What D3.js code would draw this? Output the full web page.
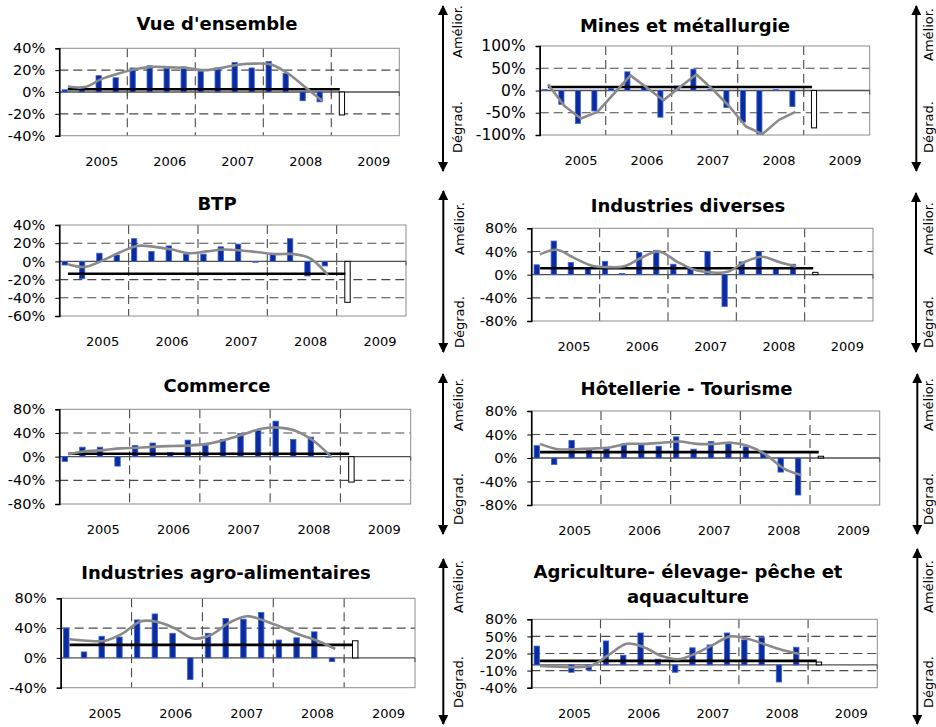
<!DOCTYPE html>
<html>
<head>
<meta charset="utf-8">
<script src="https://cdn.jsdelivr.net/npm/d3@7"></script>
<style>
  body { margin: 0; background: #fff; }
  svg { display: block; }
  text { font-family: "DejaVu Sans", Verdana, sans-serif; fill: #000; }
</style>
</head>
<body>
<svg id="chart" width="936" height="727"></svg>
<script>
// Quarterly opinion balances (%) by sector, 2005 T1 – 2008 T4, plus the 2009 T1 outlook
const years = ["2005", "2006", "2007", "2008", "2009"];
const quarters = years.flatMap(y => ["T1", "T2", "T3", "T4"].map(q => y + " " + q));

const sectors = [
  "Vue d'ensemble",
  "Mines et métallurgie",
  "BTP",
  "Industries diverses",
  "Commerce",
  "Hôtellerie - Tourisme",
  "Industries agro-alimentaires",
  "Agriculture- élevage- pêche et\naquaculture"
];

const yTicks = [
  [-40, -20, 0, 20, 40],
  [-100, -50, 0, 50, 100],
  [-60, -40, -20, 0, 20, 40],
  [-80, -40, 0, 40, 80],
  [-80, -40, 0, 40, 80],
  [-80, -40, 0, 40, 80],
  [-40, 0, 40, 80],
  [-40, -10, 20, 50, 80]
];

// Quarterly balance of opinions
const balances = [
  [2, 2, 15, 13, 22, 24, 22, 23, 19, 22, 27, 22, 28, 17, -8, -9],
  [2, -31, -74, -46, 4, 42, 10, -60, 10, 48, 2, -38, -71, -98, 2, -36],
  [-4, -19, 9, 7, 25, 11, 17, 8, 8, 16, 19, -1, 8, 25, -16, -5],
  [17, 58, 21, 11, 23, 2, 38, 42, 18, 11, 40, -55, 22, 40, 11, 18],
  [-8, 16, 16, -16, 19, 23, 7, 28, 19, 29, 39, 44, 60, 29, 33, -1],
  [21, -11, 30, 13, 17, 24, 25, 20, 36, 15, 28, 24, 19, 12, -24, -63],
  [40, 8, 29, 28, 51, 59, 33, -29, 33, 53, 52, 61, 24, 27, 35, -5],
  [33, 0, -13, -9, 42, 17, 56, 10, -13, 30, 35, 56, 44, 48, -30, 31]
];

// Trend of the balance
const trends = [
  [5, 4.5, 12, 17, 21, 23, 22.5, 22, 20, 22, 25, 26, 25, 16.5, 4, -8.5],
  [14, -35, -63, -48, -7, 34, 6, -22, 8, 36, 2, -36, -81, -98, -66, -48],
  [-3, -6, 1, 10, 17, 16, 13, 9, 11, 13, 12, 10, 8, 8, 3, -15],
  [35, 43, 29, 16, 13, 15, 30, 40, 23, 9, 4, 5, 22, 31, 22, 14],
  [4, 9, 11, 14, 15, 17, 18, 19, 22, 29, 38, 47, 49, 43, 26, -1],
  [24, 15, 15, 16, 18, 24, 24, 26, 28, 24, 24, 26, 20, 5, -18, -29],
  [25, 23, 23, 33, 49, 48, 39, 26, 31, 47, 56, 50, 41, 31, 23, 12],
  [-2, -3, -4, -1, 18, 37, 31, 16, 10, 20, 35, 50, 46, 36, 26, 19]
];

// Outlook for 2009 T1
const outlook = [-21, -84, -45, 4, -43, 3, 23, 5];
// Long-run average of the balance
const averages = [2.5, 8, -13.5, 11, 5, 10, 17.5, 7];
// Trend drawn as a smoothed curve or as straight segments
const smoothTrend = [true, false, true, true, true, true, true, true];

// Panel geometry: plot box [left, right, top, bottom], title baseline(s), side arrow
const panels = [
  { box: [59.3, 399.3, 48.3, 135.7], tx: 217, ty: [29.5], tickFont: 14.5, ax: 443, ay: [5, 172], lx: 457.5, amel: 5, degr: 153 },
  { box: [539.7, 869.7, 46, 135], tx: 685, ty: [31.5], tickFont: 15.5, ax: 916.3, ay: [5, 172], lx: 928, amel: 8, degr: 153 },
  { box: [59.3, 406, 225, 316], tx: 217, ty: [210], tickFont: 14.5, ax: 443.3, ay: [190, 353], lx: 459, amel: 202, degr: 348 },
  { box: [531.3, 873, 228.3, 321], tx: 688, ty: [212], tickFont: 14.5, ax: 916, ay: [192, 353], lx: 928, amel: 202, degr: 348 },
  { box: [59.3, 410.7, 409.3, 504], tx: 217, ty: [392], tickFont: 14.5, ax: 443, ay: [373, 535], lx: 458.5, amel: 378, degr: 525 },
  { box: [531.3, 879.7, 411, 505], tx: 686.5, ty: [395], tickFont: 14.5, ax: 917.3, ay: [373, 535], lx: 928, amel: 378, degr: 525 },
  { box: [60.7, 415, 598.3, 687.7], tx: 226, ty: [579], tickFont: 14.5, ax: 443.3, ay: [558, 725], lx: 458.5, amel: 560, degr: 708 },
  { box: [531.3, 877.3, 619.3, 687.7], tx: 688, ty: [578, 603], tickFont: 14.5, ax: 917.3, ay: [548, 725], lx: 928, amel: 560, degr: 708 }
];

const svg = d3.select("#chart");

const defs = svg.append("defs");
["arrowEnd", "arrowStart"].forEach((id, i) => {
  defs.append("marker")
    .attr("id", id)
    .attr("viewBox", "0 0 10 10")
    .attr("refX", i === 0 ? 9 : 1).attr("refY", 5)
    .attr("markerUnits", "userSpaceOnUse")
    .attr("markerWidth", 10).attr("markerHeight", 10)
    .attr("orient", "auto")
    .append("path")
    .attr("d", i === 0 ? "M0,0 L10,5 L0,10 Z" : "M10,0 L0,5 L10,10 Z")
    .attr("fill", "#000");
});

sectors.forEach((title, i) => {
  const p = panels[i];
  const [left, right, top, bottom] = p.box;
  const ticks = yTicks[i];
  const g = svg.append("g");

  const x = d3.scaleBand().domain(quarters).range([left, right]).padding(0);
  const bw = x.bandwidth();
  const y = d3.scaleLinear().domain(d3.extent(ticks)).range([bottom, top]);
  const cx = q => x(q) + bw / 2;

  // Title
  const lines = title.split("\n");
  lines.forEach((line, k) => {
    g.append("text")
      .attr("x", p.tx).attr("y", p.ty[k])
      .attr("text-anchor", "middle")
      .attr("font-size", 18).attr("font-weight", "bold")
      .text(line);
  });

  // Dashed horizontal gridlines
  g.append("g").selectAll("line")
    .data(ticks.filter(t => t !== 0 && t !== ticks[0] && t !== ticks[ticks.length - 1]))
    .join("line")
    .attr("x1", left).attr("x2", right)
    .attr("y1", d => y(d)).attr("y2", d => y(d))
    .attr("stroke", "#4a4a4a").attr("stroke-width", 1.1)
    .attr("stroke-dasharray", "9,5");

  // Dashed vertical lines between years
  const yearStarts = years.slice(1).map(yr => yr + " T1");
  g.append("g").selectAll("line")
    .data(yearStarts)
    .join("line")
    .attr("x1", d => x(d)).attr("x2", d => x(d))
    .attr("y1", top).attr("y2", bottom)
    .attr("stroke", "#4a4a4a").attr("stroke-width", 1.1)
    .attr("stroke-dasharray", "9,5");

  // Plot border
  g.append("rect")
    .attr("x", left).attr("y", top)
    .attr("width", right - left).attr("height", bottom - top)
    .attr("fill", "none").attr("stroke", "#8c8c8c").attr("stroke-width", 1);

  // Zero line with year tick marks
  g.append("line")
    .attr("x1", left).attr("x2", right)
    .attr("y1", y(0)).attr("y2", y(0))
    .attr("stroke", "#505050").attr("stroke-width", 1.3);
  g.append("g").selectAll("line")
    .data(yearStarts.map(d => x(d)).concat([right]))
    .join("line")
    .attr("x1", d => d).attr("x2", d => d)
    .attr("y1", y(0)).attr("y2", y(0) + 4)
    .attr("stroke", "#505050").attr("stroke-width", 1);

  // Quarterly balance bars
  const obs = quarters.slice(0, balances[i].length);
  g.append("g").selectAll("rect")
    .data(balances[i].map((v, k) => ({ q: obs[k], v })))
    .join("rect")
    .attr("x", d => x(d.q) + bw * 0.16)
    .attr("width", bw * 0.31)
    .attr("y", d => Math.min(y(d.v), y(0)))
    .attr("height", d => Math.abs(y(d.v) - y(0)))
    .attr("fill", "#0b2c9f")
    .attr("stroke", "#3c62d8").attr("stroke-width", 0.8);

  // Outlook bar
  const fq = quarters[balances[i].length];
  g.append("rect")
    .attr("x", x(fq) + bw * 0.47)
    .attr("width", bw * 0.31)
    .attr("y", Math.min(y(outlook[i]), y(0)))
    .attr("height", Math.abs(y(outlook[i]) - y(0)))
    .attr("fill", "#fff")
    .attr("stroke", "#000").attr("stroke-width", 1);

  // Average line
  const avgPts = quarters.slice(0, balances[i].length + 1).map(q => [cx(q), y(averages[i])]);
  g.append("path")
    .attr("d", d3.line()(avgPts))
    .attr("fill", "none").attr("stroke", "#000").attr("stroke-width", 2.6);

  // Trend line
  const trendLine = d3.line()
    .x(d => cx(d.q)).y(d => y(d.v))
    .curve(smoothTrend[i] ? d3.curveCardinal.tension(0) : d3.curveLinear);
  g.append("path")
    .attr("d", trendLine(trends[i].map((v, k) => ({ q: obs[k], v }))))
    .attr("fill", "none").attr("stroke", "#8a8a8a").attr("stroke-width", 2.6)
    .attr("stroke-linejoin", "round");

  // Value axis
  const yAxis = g.append("g")
    .attr("transform", `translate(${left},0)`)
    .call(d3.axisLeft(y).tickValues(ticks).tickFormat(d => d + "%").tickSize(4).tickPadding(10));
  yAxis.select(".domain").attr("stroke", "#000").attr("stroke-width", 1.6);
  yAxis.selectAll(".tick line").attr("stroke", "#000");
  yAxis.selectAll("text").attr("font-size", p.tickFont).attr("font-family", '"DejaVu Sans", sans-serif').attr("fill", "#000");

  // Year labels
  const xAxis = g.append("g")
    .attr("transform", `translate(0,${bottom})`)
    .call(d3.axisBottom(x).tickValues(years.map(yr => yr + " T3")).tickFormat(d => d.slice(0, 4)).tickSize(0).tickPadding(21));
  xAxis.select(".domain").remove();
  xAxis.selectAll("text").attr("font-size", 13).attr("font-family", '"DejaVu Sans", sans-serif').attr("fill", "#000");

  // Direction arrow
  g.append("line")
    .attr("x1", p.ax).attr("x2", p.ax)
    .attr("y1", p.ay[0] + 1).attr("y2", p.ay[1] - 1)
    .attr("stroke", "#000").attr("stroke-width", 2)
    .attr("marker-start", "url(#arrowStart)")
    .attr("marker-end", "url(#arrowEnd)");

  g.append("text")
    .attr("transform", `translate(${p.lx},${p.amel}) rotate(-90)`)
    .attr("dy", "0.36em")
    .attr("text-anchor", "end")
    .attr("font-size", 13)
    .text("Amélior.");
  g.append("text")
    .attr("transform", `translate(${p.lx},${p.degr}) rotate(-90)`)
    .attr("dy", "0.36em")
    .attr("text-anchor", "start")
    .attr("font-size", 13)
    .text("Dégrad.");
});
</script>
</body>
</html>
